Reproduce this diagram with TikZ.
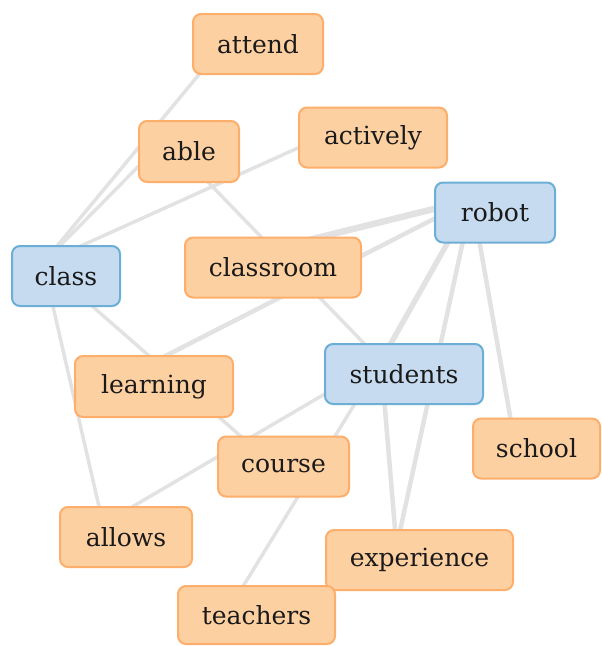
\documentclass[tikz,border=0pt]{standalone}
\usepackage{fontspec}
\setmainfont{DejaVu Serif}
\usetikzlibrary{backgrounds}
\definecolor{ofill}{HTML}{FDD0A2}
\definecolor{oline}{HTML}{FDAE6B}
\definecolor{bfill}{HTML}{C6DBEF}
\definecolor{bline}{HTML}{6BAED6}
\definecolor{edgec}{HTML}{E2E2E2}
\definecolor{txt}{HTML}{1A1A1A}
\begin{document}
\begin{tikzpicture}[x=1pt,y=-1pt,
  word/.style={rounded corners=8pt, line width=2pt, minimum height=60pt,
    inner sep=0pt, text=txt, font=\fontsize{25}{28}\selectfont},
  onode/.style={word, draw=oline, fill=ofill},
  bnode/.style={word, draw=bline, fill=bfill},
  edge/.style={draw=edgec, line cap=round}]
\useasboundingbox (0,0) rectangle (602,646);
\node[onode, minimum width=130pt] (attend) at (258,44) {attend};
\node[onode, minimum width=148pt] (actively) at (373,137.5) {actively};
\node[onode, minimum width=100pt, minimum height=61pt] (able) at (189,151.5) {able};
\node[bnode, minimum width=120pt] (robot) at (495,212.5) {robot};
\node[bnode, minimum width=108pt] (class) at (66,276) {class};
\node[onode, minimum width=176pt] (classroom) at (273,267.5) {classroom};
\node[bnode, minimum width=158pt] (students) at (404,374) {students};
\node[onode, minimum width=158pt, minimum height=61pt] (learning) at (154,386.5) {learning};
\node[onode, minimum width=127pt] (school) at (536.5,448.5) {school};
\node[onode, minimum width=131pt] (course) at (283.5,466.5) {course};
\node[onode, minimum width=132pt] (allows) at (126,537) {allows};
\node[onode, minimum width=187pt] (experience) at (419.5,560) {experience};
\node[onode, minimum width=157pt, minimum height=58pt] (teachers) at (256.5,615) {teachers};
\begin{pgfonlayer}{background}
\foreach \a/\b/\w in {robot/classroom/6.5, robot/learning/4.5, robot/students/5.5,
  robot/experience/4.5, robot/school/4.5, students/experience/4.5,
  students/teachers/3.5, students/allows/3.5, able/students/3.5,
  class/attend/3.5, class/able/3.5, class/actively/3.5, class/course/3.5, class/allows/3.5}
  \draw[edge, line width=\w pt] ([shift={(-23,-13)}]\a.center) -- ([shift={(-23,-13)}]\b.center);
\end{pgfonlayer}
\end{tikzpicture}
\end{document}
